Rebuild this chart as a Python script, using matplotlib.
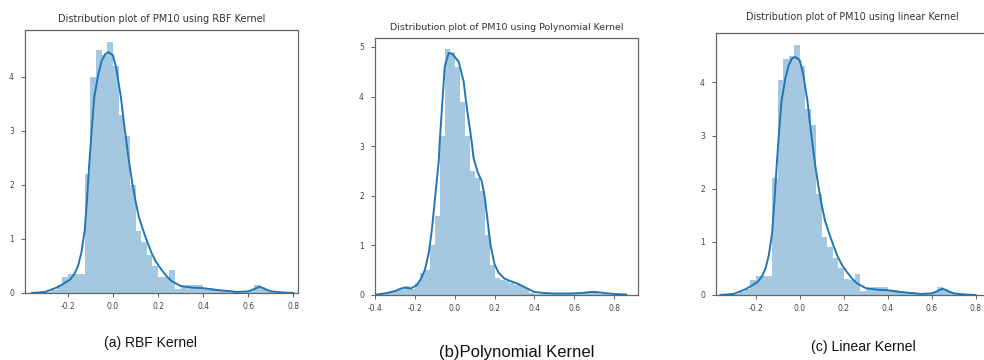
import numpy as np
import matplotlib
matplotlib.use("Agg")
import matplotlib.pyplot as plt

# ---------------- data ----------------
titles = ["Distribution plot of PM10 using RBF Kernel",
          "Distribution plot of PM10 using Polynomial Kernel",
          "Distribution plot of PM10 using linear Kernel"]
captions = ["(a) RBF Kernel", "(b)Polynomial Kernel", "(c) Linear Kernel"]

bin_width = 0.025

# (a) RBF kernel histogram (density) and KDE
rbf_bin_start = -0.3
rbf_hist = [0.02, 0.05, 0.15, 0.30, 0.35, 0.35, 0.35, 2.20, 4.00, 4.50,
            4.40, 4.65, 4.20, 3.30, 2.90, 2.00, 1.15, 0.95, 0.70, 0.50,
            0.30, 0.30, 0.42, 0.08, 0.12, 0.15, 0.15, 0.15, 0.08, 0.10,
            0.08, 0.06, 0.05, 0.04, 0.02, 0.02, 0.05, 0.15, 0.12, 0.06, 0.02]
rbf_kde_x = [-0.36, -0.30, -0.25, -0.22, -0.19, -0.17, -0.155, -0.14, -0.125, -0.115,
             -0.104, -0.093, -0.083, -0.065, -0.05, -0.035, -0.02, 0.0, 0.015, 0.035,
             0.05, 0.07, 0.085, 0.10, 0.115, 0.133, 0.15, 0.17, 0.19, 0.215,
             0.24, 0.26, 0.30, 0.35, 0.40, 0.45, 0.50, 0.55, 0.60, 0.63,
             0.65, 0.67, 0.70, 0.75, 0.80]
rbf_kde_y = [0.0, 0.02, 0.10, 0.17, 0.25, 0.36, 0.50, 0.75, 1.17, 1.75,
             2.46, 3.10, 3.63, 4.05, 4.30, 4.42, 4.46, 4.40, 4.15, 3.63,
             3.10, 2.46, 2.05, 1.70, 1.40, 1.17, 0.97, 0.75, 0.58, 0.43,
             0.30, 0.22, 0.13, 0.10, 0.09, 0.06, 0.04, 0.02, 0.03, 0.08,
             0.12, 0.08, 0.03, 0.01, 0.0]

# (b) Polynomial kernel
poly_bin_start = -0.4
poly_hist = [0.02, 0.03, 0.05, 0.06, 0.10, 0.15, 0.18, 0.12, 0.25, 0.45,
             0.50, 1.00, 1.60, 3.20, 4.95, 4.90, 4.60, 3.90, 3.20, 2.50,
             2.35, 2.10, 1.20, 0.60, 0.35, 0.30, 0.28, 0.25, 0.20, 0.20,
             0.15, 0.05, 0.03, 0.03, 0.03, 0.03, 0.02, 0.02, 0.03, 0.03,
             0.03, 0.03, 0.04, 0.05, 0.06, 0.03, 0.02]
poly_kde_x = [-0.39, -0.34, -0.30, -0.27, -0.25, -0.22, -0.19, -0.17, -0.15, -0.13,
              -0.115, -0.10, -0.08, -0.075, -0.06, -0.05, -0.03, -0.01, 0.02, 0.045,
              0.06, 0.085, 0.095, 0.115, 0.135, 0.15, 0.165, 0.18, 0.20, 0.22,
              0.25, 0.28, 0.32, 0.36, 0.40, 0.45, 0.50, 0.58, 0.64, 0.68,
              0.71, 0.75, 0.80, 0.86]
poly_kde_y = [0.01, 0.04, 0.08, 0.13, 0.15, 0.13, 0.20, 0.32, 0.50, 0.85,
              1.30, 1.90, 2.70, 3.10, 4.00, 4.60, 4.88, 4.85, 4.70, 4.30,
              3.80, 3.10, 2.75, 2.48, 2.30, 2.00, 1.50, 1.00, 0.62, 0.45,
              0.33, 0.28, 0.22, 0.14, 0.06, 0.04, 0.03, 0.03, 0.04, 0.06,
              0.06, 0.04, 0.02, 0.01]

# (c) Linear kernel
lin_bin_start = -0.3
lin_hist = [0.02, 0.05, 0.12, 0.28, 0.35, 0.35, 0.35, 2.20, 4.05, 4.45,
            4.50, 4.70, 4.30, 3.50, 3.20, 1.90, 1.10, 0.90, 0.70, 0.50,
            0.30, 0.28, 0.40, 0.08, 0.12, 0.15, 0.15, 0.15, 0.08, 0.09,
            0.08, 0.06, 0.05, 0.04, 0.02, 0.02, 0.05, 0.15, 0.12, 0.06, 0.02]
lin_kde_x = rbf_kde_x
lin_kde_y = [0.0, 0.02, 0.10, 0.17, 0.25, 0.36, 0.50, 0.75, 1.17, 1.75,
             2.46, 3.10, 3.63, 4.08, 4.32, 4.45, 4.48, 4.42, 4.18, 3.66,
             3.12, 2.46, 2.05, 1.70, 1.40, 1.17, 0.97, 0.75, 0.58, 0.43,
             0.30, 0.22, 0.13, 0.10, 0.09, 0.06, 0.04, 0.02, 0.03, 0.08,
             0.12, 0.08, 0.03, 0.01, 0.0]

xlims = [(-0.39, 0.82), (-0.39, 0.92), (-0.38, 0.86)]
ylims = [(0, 4.87), (0, 5.18), (0, 4.93)]
xticks = [[-0.2, 0.0, 0.2, 0.4, 0.6, 0.8],
          [-0.4, -0.2, 0.0, 0.2, 0.4, 0.6, 0.8],
          [-0.2, 0.0, 0.2, 0.4, 0.6, 0.8]]
yticks = [[0, 1, 2, 3, 4], [0, 1, 2, 3, 4, 5], [0, 1, 2, 3, 4]]

# ---------------- drawing ----------------
W, H = 984, 360
fig = plt.figure(figsize=(W / 100, H / 100), dpi=100)

def rect(l, r, t, b):
    return [l / W, (H - b) / H, (r - l) / W, (b - t) / H]

axes_rects = [rect(25, 298, 30, 293), rect(375, 638, 38, 295), rect(716, 989, 33, 295)]
title_pads = [6, 5.4, 9]
title_sizes = [7.0, 6.8, 6.9]
caption_pos = [(150, 343), (517, 353), (863, 347)]
caption_sizes = [10.0, 12.0, 10.2]

hists = [(rbf_bin_start, rbf_hist), (poly_bin_start, poly_hist), (lin_bin_start, lin_hist)]
kdes = [(rbf_kde_x, rbf_kde_y), (poly_kde_x, poly_kde_y), (lin_kde_x, lin_kde_y)]

c0 = "#1f77b4"
for i in range(3):
    ax = fig.add_axes(axes_rects[i])
    start, heights = hists[i]
    heights = np.asarray(heights)
    lefts = start + bin_width * np.arange(len(heights))
    ax.bar(lefts, heights, width=bin_width, align="edge", color=c0, alpha=0.4,
           linewidth=0)
    kx, ky = kdes[i]
    ax.plot(kx, ky, color=c0, linewidth=1.4)
    ax.set_xlim(*xlims[i])
    ax.set_ylim(*ylims[i])
    ax.set_xticks(xticks[i])
    ax.set_xticklabels([f"{v:.1f}" for v in xticks[i]])
    ax.set_yticks(yticks[i])
    ax.tick_params(labelsize=5.5, colors="#444444", length=3, width=0.6)
    ax.tick_params(axis="y", pad=5)
    for s in ax.spines.values():
        s.set_color("#666666")
        s.set_linewidth(0.9)
    ax.set_title(titles[i], fontsize=title_sizes[i], color="#333333", pad=title_pads[i])
    cx, cy = caption_pos[i]
    fig.text(cx / W, 1 - cy / H, captions[i], ha="center", va="center",
             fontsize=caption_sizes[i], family="Liberation Sans", color="#111111")

fig.savefig("out.png", dpi=100)
